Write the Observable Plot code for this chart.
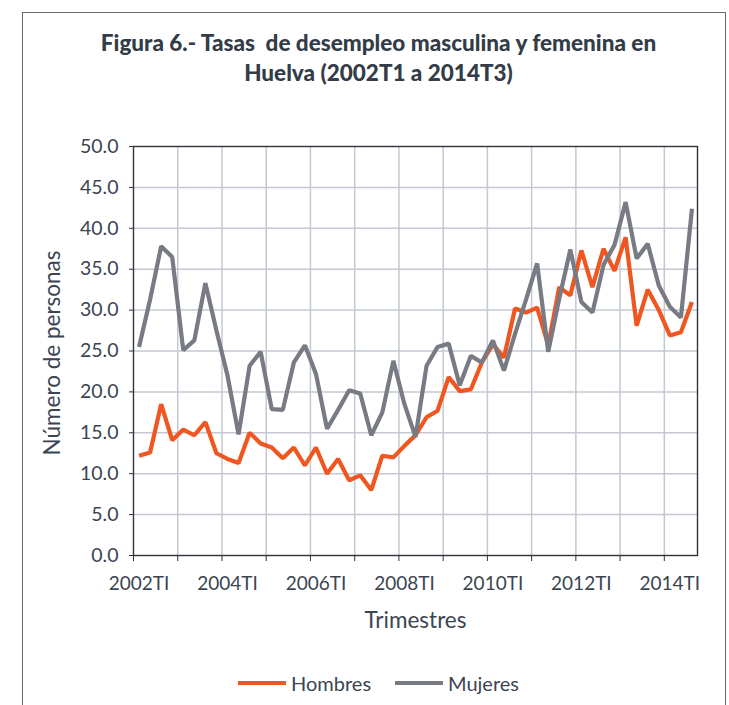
<!DOCTYPE html>
<html>
<head>
<meta charset="utf-8">
<script src="https://cdn.jsdelivr.net/npm/d3@7"></script>
<script src="https://cdn.jsdelivr.net/npm/@observablehq/plot@0.6"></script>
<style>
  html, body { margin: 0; padding: 0; background: #fff; }
  #wrap { position: relative; width: 729px; height: 705px; overflow: hidden; font-family: Lato, "Open Sans", sans-serif; color: #3b4552; }
  #frame { position: absolute; left: 22px; top: 12px; width: 704px; height: 720px; border: 1px solid #6a6a6a; box-sizing: border-box; }
  #title { position: absolute; left: 0; width: 729px; top: 28px; text-align: center; font-weight: 900; font-size: 22.5px; line-height: 30px; color: #333c47; margin-left: 14px; }
  #chart { position: absolute; left: 0; top: 0; }
  #legend { position: absolute; top: 671px; left: 0; width: 729px; font-size: 20px; color: #3b4552; }
  .lg { position: absolute; display: flex; align-items: center; }
  .sw { width: 48px; height: 4px; margin-right: 5px; }
</style>
</head>
<body>
<div id="wrap">
  <div id="frame"></div>
  <div id="title">Figura 6.- Tasas&nbsp; de desempleo masculina y femenina en<br>Huelva (2002T1 a 2014T3)</div>
  <div id="chart"></div>
  <div id="legend"></div>
</div>
<script>
// Quarters 2002T1 .. 2014T3
const years = d3.range(2002, 2015);
const quarterNames = ["TI", "TII", "TIII", "TIV"];
const quarters = [];
for (const y of years) for (const q of quarterNames) quarters.push(y + q);
quarters.length = 51;

const hombres = [
  12.2, 12.6, 18.5, 14.1, 15.4, 14.7, 16.3, 12.5, 11.8, 11.3,
  15.0, 13.7, 13.2, 11.9, 13.2, 11.0, 13.2, 10.0, 11.8, 9.2,
  9.8, 8.0, 12.2, 12.0, 13.4, 14.7, 16.9, 17.7, 21.8, 20.1,
  20.3, 23.6, 25.8, 24.2, 30.2, 29.7, 30.3, 25.7, 32.8, 31.8,
  37.3, 32.8, 37.5, 34.8, 38.9, 28.1, 32.5, 30.0, 26.9, 27.3,
  31.0
];
const mujeres = [
  25.5, 31.3, 37.8, 36.5, 25.1, 26.3, 33.3, 27.5, 22.0, 14.8,
  23.2, 24.9, 17.9, 17.8, 23.6, 25.7, 22.2, 15.5, 17.8, 20.2,
  19.8, 14.7, 17.5, 23.8, 18.5, 14.5, 23.2, 25.5, 25.9, 20.8,
  24.4, 23.6, 26.3, 22.6, 27.1, 31.3, 35.7, 24.9, 31.4, 37.4,
  31.0, 29.7, 35.5, 38.0, 43.2, 36.3, 38.1, 33.0, 30.4, 29.1,
  42.4
];
const seriesNames = ["Hombres", "Mujeres"];
const seriesColors = ["#f0561f", "#787a84"];
const yTicks = [0, 5, 10, 15, 20, 25, 30, 35, 40, 45, 50];
const xLabels = ["2002TI", "2004TI", "2006TI", "2008TI", "2010TI", "2012TI", "2014TI"];

const rows = [];
quarters.forEach((q, i) => {
  rows.push({i: i + 0.5, q, serie: "Hombres", v: hombres[i]});
  rows.push({i: i + 0.5, q, serie: "Mujeres", v: mujeres[i]});
});
const labelPos = xLabels.map(l => quarters.indexOf(l) + 0.5);
const boundaries = d3.range(4, 49, 4);
const txt = "#3b4552";

const chart = Plot.plot({
  width: 729,
  height: 705,
  marginLeft: 133,
  marginRight: 32,
  marginTop: 146,
  marginBottom: 150,
  style: {fontFamily: "Lato, 'Open Sans', sans-serif", color: txt, background: "transparent"},
  x: {type: "linear", domain: [0, quarters.length]},
  y: {domain: [0, 50]},
  color: {domain: seriesNames, range: seriesColors},
  marks: [
    Plot.gridY(yTicks.slice(1, -1), {stroke: "#c3c8d2", strokeOpacity: 1, strokeWidth: 1.5}),
    Plot.gridX(boundaries, {stroke: "#c3c8d2", strokeOpacity: 1, strokeWidth: 1.5}),
    Plot.line(rows, {x: "i", y: "v", z: "serie", stroke: "serie", strokeWidth: 4.2, strokeLinejoin: "miter", strokeLinecap: "butt"}),
    Plot.frame({stroke: "#2f3438", strokeWidth: 1.4}),
    Plot.axisY(yTicks, {tickSize: 4, tickPadding: 11, tickFormat: d => d.toFixed(1), fontSize: 19.5, stroke: "#2f3438", fill: txt, label: null}),
    Plot.axisX([0, ...boundaries], {tickSize: 6, tickFormat: () => "", stroke: "#2f3438", label: null}),
    Plot.axisX(labelPos, {tickSize: 0, tickPadding: 21, tickFormat: d => quarters[Math.round(d - 0.5)], fontSize: 19, fill: txt, label: null}),
    Plot.text(["Trimestres"], {frameAnchor: "bottom", dy: 72, fontSize: 22.5, fill: txt}),
    Plot.text(["Número de personas"], {frameAnchor: "left", textAnchor: "middle", dx: -81, dy: 2, rotate: -90, fontSize: 22.5, fill: txt})
  ]
});
document.getElementById("chart").appendChild(chart);

// Legend
const legend = document.getElementById("legend");
const legendX = [238, 395];
seriesNames.forEach((name, k) => {
  const d = document.createElement("div");
  d.className = "lg";
  d.style.left = legendX[k] + "px";
  d.innerHTML = `<span class="sw" style="background:${seriesColors[k]}"></span><span>${name}</span>`;
  legend.appendChild(d);
});
</script>
</body>
</html>
